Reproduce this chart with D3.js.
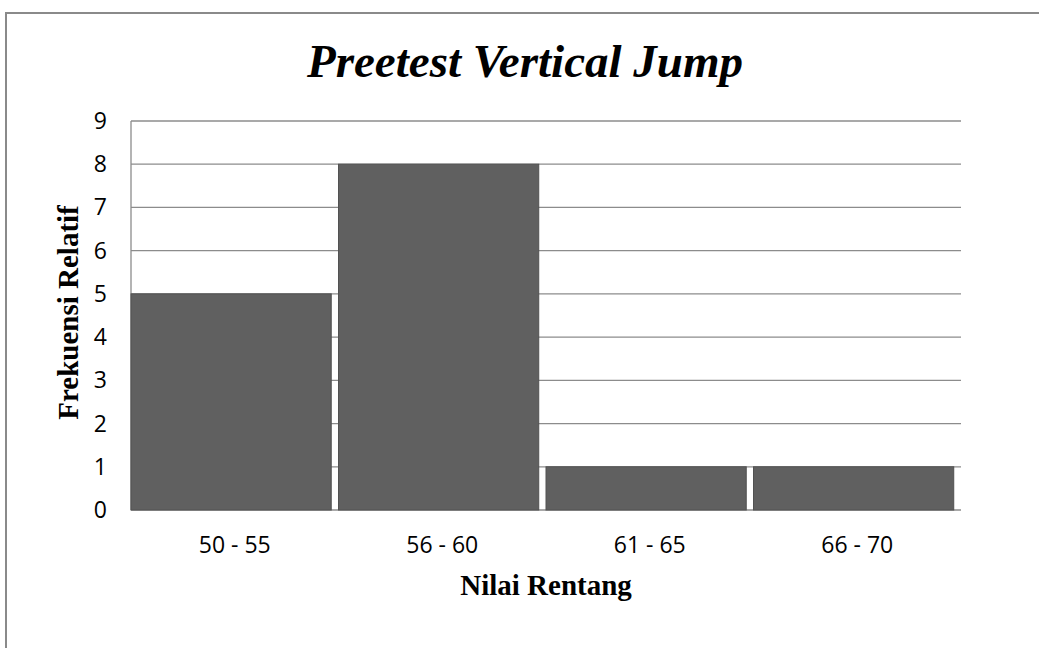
<!DOCTYPE html>
<html><head><meta charset="utf-8">
<script src="https://cdn.jsdelivr.net/npm/d3@7"></script>
<style>body{margin:0;background:#fff}svg{display:block}</style>
</head><body>
<svg id="c" width="1039" height="648"></svg>
<script>
const categories = ["50 - 55", "56 - 60", "61 - 65", "66 - 70"];
const values = [5, 8, 1, 1];
const yTicks = [0,1,2,3,4,5,6,7,8,9];
const title = "Preetest Vertical Jump";
const xTitle = "Nilai Rentang";
const yTitle = "Frekuensi Relatif";

const svg = d3.select("#c");
const L = 131, R = 961, T = 121, B = 510;

// outer frame
svg.append("rect").attr("x",6).attr("y",13).attr("width",1100).attr("height",700)
  .attr("fill","none").attr("stroke","#8a8a8a").attr("stroke-width",2);

const y = d3.scaleLinear().domain([0,9]).range([B,T]);
const xCat = d3.scaleBand().domain(categories).range([L,R]).padding(0);
const xBar = d3.scaleBand().domain(categories).range([L,R]).paddingInner(0.035).paddingOuter(0.0175).align(0);

// gridlines
svg.append("g").selectAll("line").data(yTicks).join("line")
  .attr("x1",L).attr("x2",R).attr("y1",d=>y(d)).attr("y2",d=>y(d))
  .attr("stroke","#8c8c8c").attr("stroke-width",1.3);
// y axis line
svg.append("line").attr("x1",L).attr("x2",L).attr("y1",T).attr("y2",B)
  .attr("stroke","#8c8c8c").attr("stroke-width",1.3);

// bars
svg.append("g").selectAll("rect").data(values).join("rect")
  .attr("x",(d,i)=>xBar(categories[i]))
  .attr("y",d=>y(d))
  .attr("width",xBar.bandwidth())
  .attr("height",d=>B-y(d))
  .attr("fill","#606060").attr("stroke","#525252").attr("stroke-width",1);

// y tick labels
svg.append("g").selectAll("text").data(yTicks).join("text")
  .attr("x",107).attr("y",d=>y(d)).attr("text-anchor","end").attr("dy","0.35em")
  .attr("font-family","'Open Sans', sans-serif").attr("font-size",23).attr("fill","#000")
  .text(d=>d);

// x tick labels
svg.append("g").selectAll("text").data(categories).join("text")
  .attr("x",d=>xCat(d)+xCat.bandwidth()/2).attr("y",553).attr("text-anchor","middle")
  .attr("font-family","'Open Sans', sans-serif").attr("font-size",23).attr("fill","#000")
  .text(d=>d);

// title
svg.append("text").attr("x",525).attr("y",77).attr("text-anchor","middle")
  .attr("font-family","'Liberation Serif', 'Times New Roman', serif").attr("font-size",47)
  .attr("font-weight","bold").attr("font-style","italic").text(title);

// x title
svg.append("text").attr("x",546).attr("y",595).attr("text-anchor","middle")
  .attr("font-family","'Liberation Serif', 'Times New Roman', serif").attr("font-size",29)
  .attr("font-weight","bold").text(xTitle);

// y title
svg.append("text").attr("transform","translate(78,312.5) rotate(-90)").attr("text-anchor","middle")
  .attr("font-family","'Liberation Serif', 'Times New Roman', serif").attr("font-size",29)
  .attr("font-weight","bold").text(yTitle);
</script>
</body></html>
